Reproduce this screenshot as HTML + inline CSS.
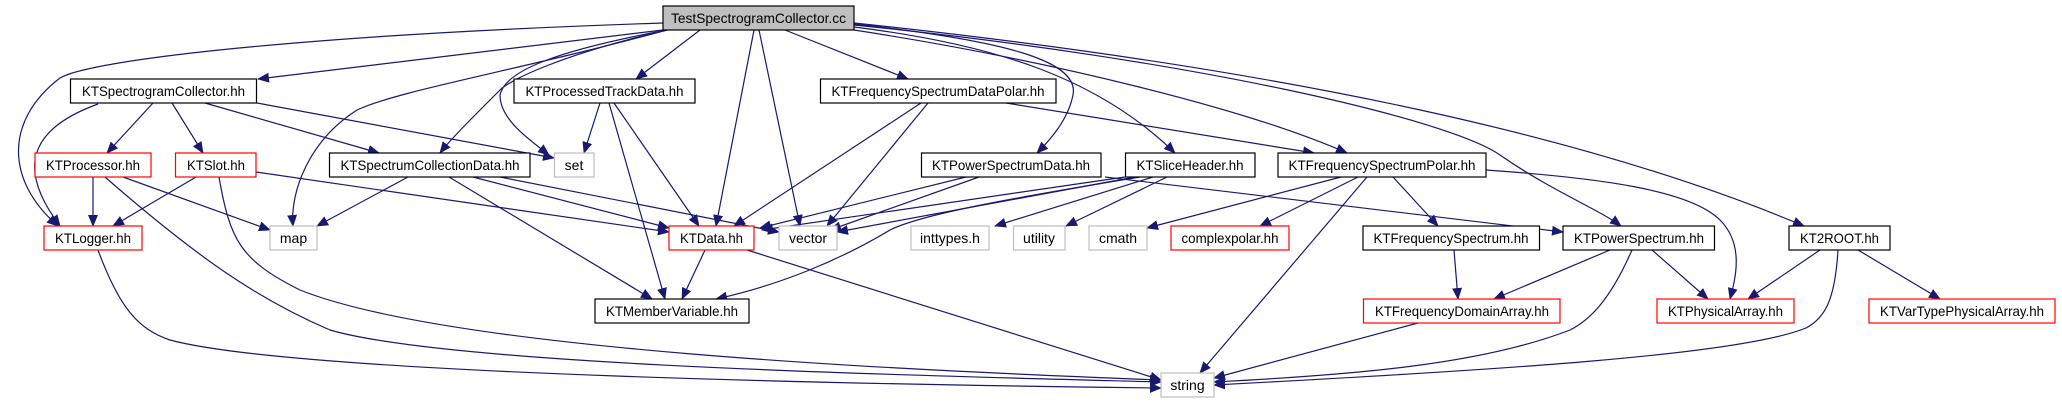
<!DOCTYPE html>
<html><head><meta charset="utf-8"><style>
html,body{margin:0;padding:0;background:#fff;}
svg{display:block;}
text{font-family:"Liberation Sans",Helvetica,sans-serif;font-size:14px;fill:#000;}
</style></head><body>
<svg width="2062" height="403" viewBox="0 0 2062 403" xmlns="http://www.w3.org/2000/svg">
<defs>
<marker id="a" markerWidth="12" markerHeight="10" refX="11" refY="5" orient="auto" markerUnits="userSpaceOnUse">
<path d="M0,0 L12,5 L0,10 z" fill="#191970"/>
</marker>
</defs>
<g fill="none" stroke="#191970" stroke-width="1.2" marker-end="url(#a)">
<!-- from Test -->
<path d="M663,23 C300,35 90,60 60,78 C5,120 5,180 58,226"/>
<path d="M663,30 L258,79"/>
<path d="M667,30 C520,70 400,90 357,110 C310,140 290,190 293,226"/>
<path d="M667,30 C560,55 510,80 500,90 C470,120 450,140 440,153"/>
<path d="M667,30 C560,50 505,70 500,95 C500,120 530,140 549,155"/>
<path d="M700,30 L636,79"/>
<path d="M754,30 L716,226"/>
<path d="M759,30 L800,226"/>
<path d="M785,30 L908,79"/>
<path d="M854,24 C1000,40 1080,60 1073,95 C1068,120 1050,140 1037,153"/>
<path d="M854,27 C1000,45 1100,80 1175,153"/>
<path d="M854,30 C1050,60 1250,110 1347,153"/>
<path d="M854,25 C1200,60 1450,120 1500,155 C1550,190 1600,210 1621,226"/>
<path d="M854,23 C1300,70 1600,140 1804,226"/>
<!-- SpectrogramCollector -->
<path d="M98,104 C40,125 10,160 60,226"/>
<path d="M153,103 L107,153"/>
<path d="M172,103 L203,153"/>
<path d="M205,103 L379,153"/>
<path d="M257,103 L554,158"/>
<!-- Processor -->
<path d="M93,177 L93,226"/>
<path d="M123,177 L270,230"/>
<path d="M105,177 C200,260 260,300 330,330 C450,365 900,375 1161,382"/>
<!-- Slot -->
<path d="M196,177 L113,226"/>
<path d="M256,172 L669,232"/>
<path d="M219,177 C230,240 240,260 300,290 C450,350 900,370 1161,380"/>
<!-- Logger -->
<path d="M98,250 C120,310 140,330 170,340 C300,375 900,385 1161,388"/>
<!-- SpectrumCollectionData -->
<path d="M408,177 L317,226"/>
<path d="M449,177 L652,299"/>
<path d="M473,177 L669,228"/>
<path d="M500,177 L779,232"/>
<!-- ProcessedTrackData -->
<path d="M600,103 L584,153"/>
<path d="M609,103 L665,299"/>
<path d="M614,103 L699,226"/>
<!-- KTData -->
<path d="M705,250 L682,299"/>
<path d="M747,250 L1161,380"/>
<!-- FreqSpecDataPolar -->
<path d="M921,103 L734,226"/>
<path d="M928,103 L827,226"/>
<path d="M1006,103 L1314,153"/>
<!-- PowerSpectrumData -->
<path d="M966,177 L760,228"/>
<path d="M979,177 L830,230"/>
<!-- SliceHeader -->
<path d="M1125,177 L762,230"/>
<path d="M1135,177 L837,232"/>
<path d="M1140,177 C1000,200 920,215 890,230 C840,260 780,285 716,299"/>
<path d="M1153,177 L995,226"/>
<path d="M1167,177 L1066,226"/>
<path d="M1105,177 L1563,232"/>
<!-- FreqSpecPolar -->
<path d="M1341,177 L1147,228"/>
<path d="M1358,177 L1260,226"/>
<path d="M1367,177 L1200,373"/>
<path d="M1393,177 L1438,226"/>
<path d="M1486,170 C1600,178 1690,190 1720,220 C1745,245 1735,280 1730,299"/>
<!-- FreqSpectrum -->
<path d="M1454,250 L1458,299"/>
<!-- PowerSpectrum -->
<path d="M1610,250 L1494,299"/>
<path d="M1652,250 L1708,299"/>
<path d="M1632,250 C1610,300 1590,320 1570,330 C1480,365 1350,375 1214,382"/>
<!-- KT2ROOT -->
<path d="M1820,250 L1748,299"/>
<path d="M1858,250 L1940,299"/>
<path d="M1838,250 C1835,300 1825,318 1806,328 C1740,355 1500,370 1214,385"/>
<!-- FreqDomainArray -->
<path d="M1418,323 L1214,378"/>
</g>
<g stroke-width="1.2">
<rect x="663" y="6" width="191" height="24" fill="#bfbfbf" stroke="#000"/>
<text x="758.5" y="23" text-anchor="middle" textLength="175" lengthAdjust="spacingAndGlyphs">TestSpectrogramCollector.cc</text>

<rect x="70.5" y="79" width="186" height="24" fill="#fff" stroke="#000"/>
<text x="163.5" y="96" text-anchor="middle" textLength="163" lengthAdjust="spacingAndGlyphs">KTSpectrogramCollector.hh</text>
<rect x="514" y="79" width="181" height="24" fill="#fff" stroke="#000"/>
<text x="604.5" y="96" text-anchor="middle" textLength="158" lengthAdjust="spacingAndGlyphs">KTProcessedTrackData.hh</text>
<rect x="820.5" y="79" width="235.5" height="24" fill="#fff" stroke="#000"/>
<text x="938" y="96" text-anchor="middle" textLength="213" lengthAdjust="spacingAndGlyphs">KTFrequencySpectrumDataPolar.hh</text>

<rect x="35" y="153" width="116" height="24" fill="#fff" stroke="#f00"/>
<text x="93" y="170" text-anchor="middle" textLength="94" lengthAdjust="spacingAndGlyphs">KTProcessor.hh</text>
<rect x="175.5" y="153" width="80.5" height="24" fill="#fff" stroke="#f00"/>
<text x="216" y="170" text-anchor="middle" textLength="58" lengthAdjust="spacingAndGlyphs">KTSlot.hh</text>
<rect x="329.5" y="153" width="200.5" height="24" fill="#fff" stroke="#000"/>
<text x="430" y="170" text-anchor="middle" textLength="179" lengthAdjust="spacingAndGlyphs">KTSpectrumCollectionData.hh</text>
<rect x="554.5" y="153" width="39.5" height="24" fill="#fff" stroke="#bfbfbf"/>
<text x="574" y="170" text-anchor="middle">set</text>
<rect x="921.5" y="153" width="179.5" height="24" fill="#fff" stroke="#000"/>
<text x="1011" y="170" text-anchor="middle" textLength="158" lengthAdjust="spacingAndGlyphs">KTPowerSpectrumData.hh</text>
<rect x="1125.5" y="153" width="129.5" height="24" fill="#fff" stroke="#000"/>
<text x="1190" y="170" text-anchor="middle" textLength="107" lengthAdjust="spacingAndGlyphs">KTSliceHeader.hh</text>
<rect x="1278" y="153" width="208" height="24" fill="#fff" stroke="#000"/>
<text x="1382" y="170" text-anchor="middle" textLength="187" lengthAdjust="spacingAndGlyphs">KTFrequencySpectrumPolar.hh</text>

<rect x="44" y="226" width="98" height="24" fill="#fff" stroke="#f00"/>
<text x="93" y="243" text-anchor="middle" textLength="76" lengthAdjust="spacingAndGlyphs">KTLogger.hh</text>
<rect x="270" y="226" width="47" height="24" fill="#fff" stroke="#bfbfbf"/>
<text x="293.5" y="243" text-anchor="middle">map</text>
<rect x="669" y="226" width="85" height="24" fill="#fff" stroke="#f00"/>
<text x="711.5" y="243" text-anchor="middle" textLength="63" lengthAdjust="spacingAndGlyphs">KTData.hh</text>
<rect x="779" y="226" width="58" height="24" fill="#fff" stroke="#bfbfbf"/>
<text x="808" y="243" text-anchor="middle">vector</text>
<rect x="911" y="226" width="78" height="24" fill="#fff" stroke="#bfbfbf"/>
<text x="950" y="243" text-anchor="middle">inttypes.h</text>
<rect x="1013.5" y="226" width="51.5" height="24" fill="#fff" stroke="#bfbfbf"/>
<text x="1039" y="243" text-anchor="middle">utility</text>
<rect x="1089" y="226" width="58" height="24" fill="#fff" stroke="#bfbfbf"/>
<text x="1118" y="243" text-anchor="middle">cmath</text>
<rect x="1171" y="226" width="118" height="24" fill="#fff" stroke="#f00"/>
<text x="1230" y="243" text-anchor="middle" textLength="97" lengthAdjust="spacingAndGlyphs">complexpolar.hh</text>
<rect x="1363" y="226" width="176.5" height="24" fill="#fff" stroke="#000"/>
<text x="1451" y="243" text-anchor="middle" textLength="155" lengthAdjust="spacingAndGlyphs">KTFrequencySpectrum.hh</text>
<rect x="1563" y="226" width="151.5" height="24" fill="#fff" stroke="#000"/>
<text x="1639" y="243" text-anchor="middle" textLength="130" lengthAdjust="spacingAndGlyphs">KTPowerSpectrum.hh</text>
<rect x="1789" y="226" width="101" height="24" fill="#fff" stroke="#000"/>
<text x="1839.5" y="243" text-anchor="middle" textLength="79" lengthAdjust="spacingAndGlyphs">KT2ROOT.hh</text>

<rect x="595" y="299" width="154" height="24" fill="#fff" stroke="#000"/>
<text x="672" y="316" text-anchor="middle" textLength="132" lengthAdjust="spacingAndGlyphs">KTMemberVariable.hh</text>
<rect x="1363.5" y="299" width="196.5" height="24" fill="#fff" stroke="#f00"/>
<text x="1462" y="316" text-anchor="middle" textLength="174" lengthAdjust="spacingAndGlyphs">KTFrequencyDomainArray.hh</text>
<rect x="1657" y="299" width="137" height="24" fill="#fff" stroke="#f00"/>
<text x="1725.5" y="316" text-anchor="middle" textLength="115" lengthAdjust="spacingAndGlyphs">KTPhysicalArray.hh</text>
<rect x="1869" y="299" width="186" height="24" fill="#fff" stroke="#f00"/>
<text x="1962" y="316" text-anchor="middle" textLength="164" lengthAdjust="spacingAndGlyphs">KTVarTypePhysicalArray.hh</text>

<rect x="1161" y="373" width="53" height="24" fill="#fff" stroke="#bfbfbf"/>
<text x="1187.5" y="390" text-anchor="middle">string</text>
</g>
</svg>
</body></html>
